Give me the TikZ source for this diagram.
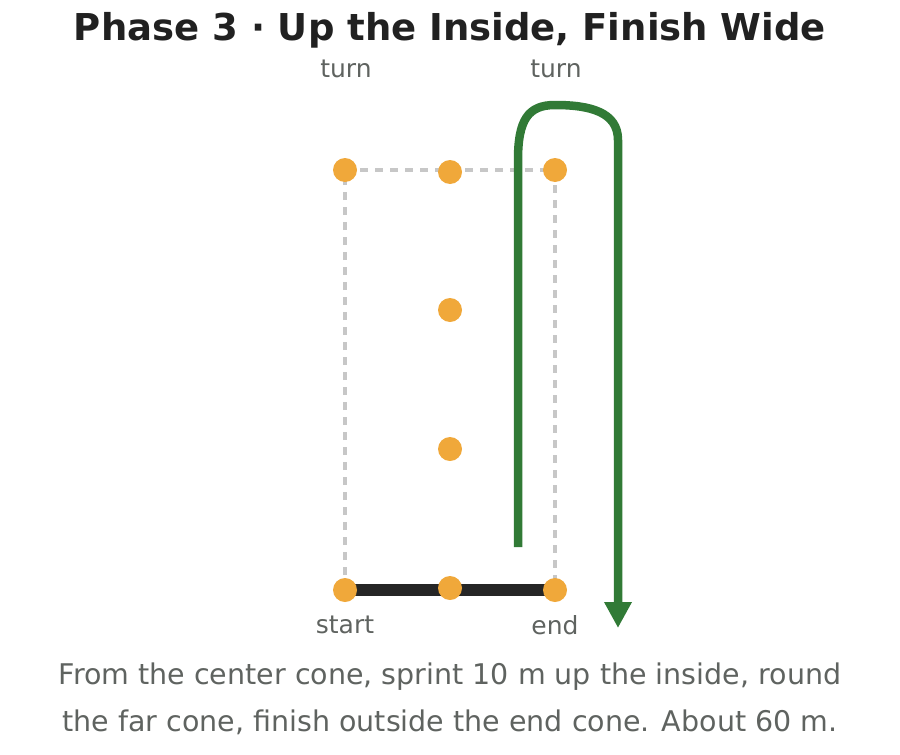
\documentclass[tikz,border=0pt]{standalone}
\usepackage{fontspec}
\setmainfont{DejaVu Sans}
\usetikzlibrary{arrows.meta,positioning}
\definecolor{cone}{HTML}{F0A83A}
\definecolor{route}{HTML}{317A36}
\definecolor{note}{HTML}{5F6360}
\tikzset{
    cone/.style={circle, fill=cone, minimum size=24pt, inner sep=0pt},
    tag/.style={text=note, font=\fontsize{25}{25}\selectfont}
}
\begin{document}
\begin{tikzpicture}[x=1pt, y=-1pt]
  \useasboundingbox (0,0) rectangle (900,755);
  % Title
  \node[font=\fontsize{37}{37}\selectfont\bfseries, text=black!87] (title) at (450,30) {Phase 3 · Up the Inside, Finish Wide};

  % Field outline
  \draw[black!22, line width=3.2pt, dash pattern=on 8pt off 7pt] (345,590) -- (345,170) -- (555,170) -- (555,590);
  \draw[black!85, line width=12pt] (345,590) -- (555,590);

  % Cones
  \node[cone] (tl) at (345,170) {};
  \node[cone] (tm) at (450,172) {};
  \node[cone] (tr) at (555,170) {};
  \node[cone] (m1) at (450,310) {};
  \node[cone] (m2) at (450,449) {};
  \node[cone] (bl) at (345,590) {};
  \node[cone] (bm) at (450,588) {};
  \node[cone] (br) at (555,590) {};

  % Labels
  \node[tag] at (346,69) {turn};
  \node[tag] at (556,69) {turn};
  \node[tag] at (345,625) {start};
  \node[tag] at (555,625) {end};

  % Route
  \coordinate (go) at (518,547);
  \coordinate (stop) at (618,628);
  \draw[route, line width=8.5pt, -{Triangle[length=26pt, width=26pt]}]
    (go) -- (518,160) .. controls (518,120) and (528,105) .. (555,105)
    .. controls (590,105) and (618,112) .. (618,140) -- (stop);

  % Caption
  \node[text=note, font=\fontsize{28.5}{28.5}\selectfont] (cap1) at (450,677) {From the center cone, sprint 10 m up the inside, round};
  \node[text=note, font=\fontsize{28.5}{28.5}\selectfont] (cap2) at (450,722) {the far cone, finish outside the end cone. About 60 m.};
\end{tikzpicture}
\end{document}
